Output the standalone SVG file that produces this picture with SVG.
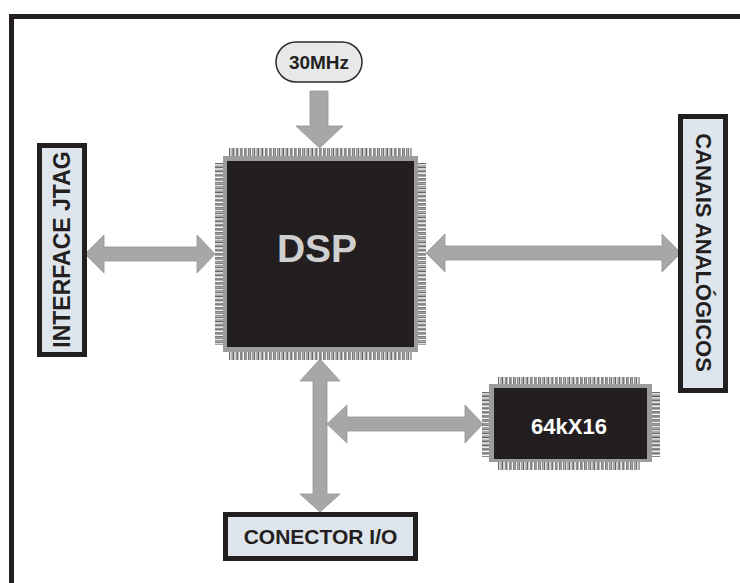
<svg xmlns="http://www.w3.org/2000/svg" width="740" height="583" viewBox="0 0 740 583">
  <style>
    .frame { fill: none; stroke: #231f20; stroke-width: 5; }
    .box { fill: #dfe5ec; stroke: #231f20; stroke-width: 5; }
    .pill { fill: #e6e8ea; stroke: #2b2b2b; stroke-width: 1.5; }
    .lbl { font-family: "Liberation Sans", Arial, sans-serif; font-weight: bold; fill: #231f20; text-anchor: middle; }
    .chiplbl { font-family: "Liberation Sans", Arial, sans-serif; font-weight: bold; text-anchor: middle; }
    .body { fill: #9c9c9c; }
    .core { fill: #231f20; }
    .bus { fill: #a6a8a8; stroke: #949696; stroke-width: 0.8; stroke-linejoin: miter; }
  </style>
  <defs>
    <!-- IC pin rows: outlined leads repeated along each edge -->
    <pattern id="pinsH" patternUnits="userSpaceOnUse" x="229" y="0" width="4.16" height="40">
      <rect x="0.6" y="-2" width="2.6" height="60" fill="#ffffff" stroke="#3a3a3a" stroke-width="0.9"/>
    </pattern>
    <pattern id="pinsV" patternUnits="userSpaceOnUse" x="0" y="163" width="40" height="4.16">
      <rect x="-2" y="0.6" width="60" height="2.6" fill="#ffffff" stroke="#3a3a3a" stroke-width="0.9"/>
    </pattern>
    <pattern id="pinsH2" patternUnits="userSpaceOnUse" x="498" y="0" width="4.18" height="40">
      <rect x="0.6" y="-2" width="2.6" height="60" fill="#ffffff" stroke="#3a3a3a" stroke-width="0.9"/>
    </pattern>
    <pattern id="pinsV2" patternUnits="userSpaceOnUse" x="0" y="392" width="40" height="4.1">
      <rect x="-2" y="0.6" width="60" height="2.6" fill="#ffffff" stroke="#3a3a3a" stroke-width="0.9"/>
    </pattern>
  </defs>

  <rect width="740" height="583" fill="#ffffff"/>

  <!-- board outline -->
  <path class="frame" d="M 11.5 590 V 16.5 H 745"/>

  <!-- connectors -->
  <g id="connectors">
    <!-- clock into DSP -->
    <polygon class="bus" points="310,91 328,91 328,126 343,126 319.5,148 296,126 310,126"/>
    <!-- JTAG <-> DSP -->
    <polygon class="bus" points="85,254 104,235 104,247 197,247 197,235 215,254 197,273 197,261 104,261 104,273"/>
    <!-- DSP <-> analog channels -->
    <polygon class="bus" points="426,253 445,234 445,246 662,246 662,234 681,253 662,272 662,260 445,260 445,272"/>
    <!-- DSP <-> I/O connector bus -->
    <polygon class="bus" points="320,359 340,381 327,381 327,494 340,494 320,512 300,494 313,494 313,381 300,381"/>
    <!-- bus branch to memory -->
    <polygon class="bus" points="327,424 347,405 347,417 465,417 465,405 483,424 465,443 465,431 347,431 347,443"/>
  </g>

  <!-- clock source -->
  <g id="clock">
    <rect class="pill" x="276" y="42" width="86" height="40" rx="20" ry="20"/>
    <text class="lbl" x="319" y="68.5" font-size="19">30MHz</text>
  </g>

  <!-- DSP processor (QFP) -->
  <g id="dsp">
    <rect x="229" y="148" width="183" height="8" fill="url(#pinsH)"/>
    <rect x="229" y="352" width="183" height="8" fill="url(#pinsH)"/>
    <rect x="215" y="163" width="8" height="182" fill="url(#pinsV)"/>
    <rect x="418" y="163" width="8" height="182" fill="url(#pinsV)"/>
    <rect class="body" x="223" y="156" width="195" height="196"/>
    <rect class="core" x="227" y="161" width="187" height="186"/>
    <text class="chiplbl" x="317" y="262" font-size="39" fill="#cfcfcf">DSP</text>
  </g>

  <!-- external memory (QFP) -->
  <g id="memory">
    <rect x="498" y="377" width="142" height="7" fill="url(#pinsH2)"/>
    <rect x="498" y="462" width="142" height="8" fill="url(#pinsH2)"/>
    <rect x="482" y="392" width="7" height="65" fill="url(#pinsV2)"/>
    <rect x="652" y="392" width="8" height="65" fill="url(#pinsV2)"/>
    <rect class="body" x="489" y="384" width="163" height="78"/>
    <rect class="core" x="494" y="388" width="153" height="71"/>
    <text class="chiplbl" x="569" y="434" font-size="22" fill="#ffffff">64kX16</text>
  </g>

  <!-- JTAG interface -->
  <g id="jtag">
    <rect class="box" x="39.5" y="145.5" width="45" height="209"/>
    <text class="lbl" font-size="23" transform="translate(69.5 249.5) rotate(-90)">INTERFACE JTAG</text>
  </g>

  <!-- analog channels -->
  <g id="canais">
    <rect class="box" x="680.5" y="116.5" width="45" height="274"/>
    <text class="lbl" font-size="22" transform="translate(696 252.5) rotate(90)">CANAIS ANALÓGICOS</text>
  </g>

  <!-- I/O connector -->
  <g id="conector">
    <rect class="box" x="225.5" y="514.5" width="190" height="44"/>
    <text class="lbl" x="320.5" y="543.5" font-size="21">CONECTOR I/O</text>
  </g>
</svg>
